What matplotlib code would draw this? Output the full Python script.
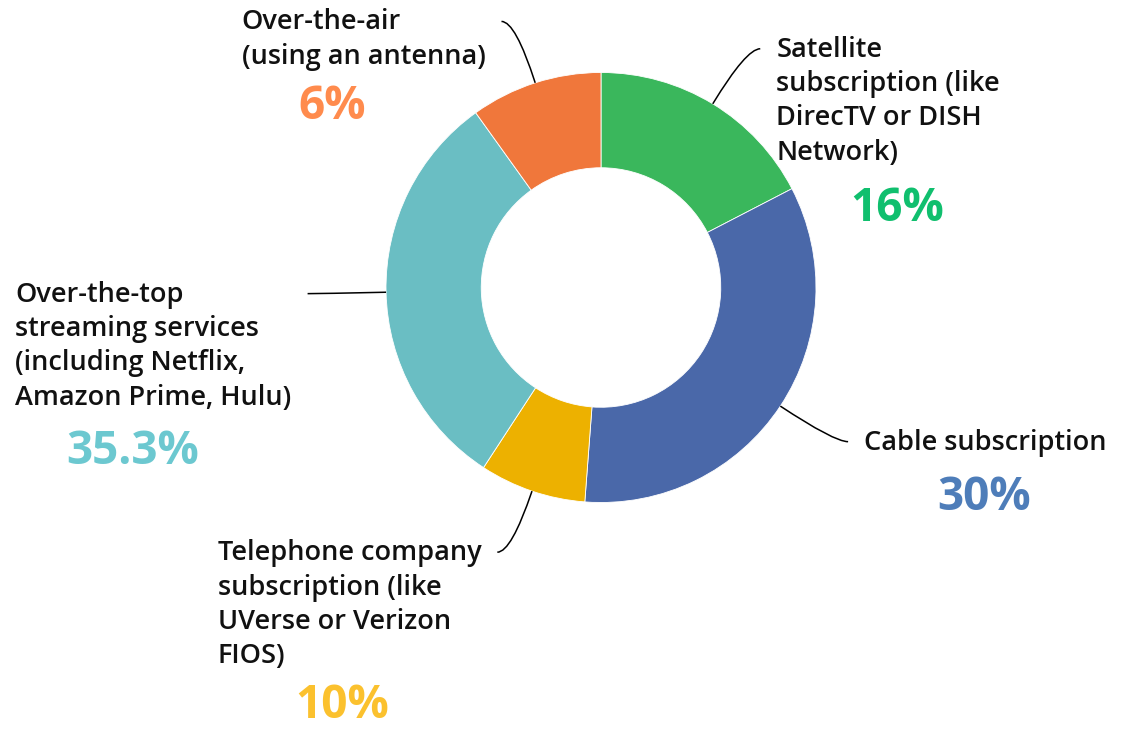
import numpy as np
import matplotlib.pyplot as plt
from matplotlib.path import Path
from matplotlib.patches import PathPatch

# ---- data ----
categories = [
    "Satellite\nsubscription (like\nDirecTV or DISH\nNetwork)",
    "Cable subscription",
    "Telephone company\nsubscription (like\nUVerse or Verizon\nFIOS)",
    "Over-the-top\nstreaming services\n(including Netflix,\nAmazon Prime, Hulu)",
    "Over-the-air\n(using an antenna)",
]
pct_labels = ["16%", "30%", "10%", "35.3%", "6%"]
# slice sizes as drawn in the picture (printed labels do not add up to 100)
shares = [17.4, 33.8, 8.0, 30.9, 9.9]

wedge_colors = ["#3AB75C", "#4A68A9", "#EDB100", "#6ABEC3", "#F0773B"]
pct_colors = ["#10BF6E", "#4E7DB9", "#FBC12E", "#6CC8D0", "#FF8B4D"]
# centre of each percentage, in image pixels
pct_pos = [(897, 208), (984, 498), (342, 705), (133, 452), (332, 106)]

# ---- layout ----
W, H = 1121, 736
R_PX = 215.0             # outer radius in pixels
CX, CY = 601.0, 287.5    # donut centre in pixels (from top-left)


def px(x, y):
    """image pixel -> data coords (radius 1 == R_PX)"""
    return (x - CX) / R_PX, (CY - y) / R_PX


fig = plt.figure(figsize=(W / 100, H / 100), dpi=100)
ax = fig.add_axes([0, 0, 1, 1])

wedges, _ = ax.pie(shares, colors=wedge_colors, startangle=90, counterclock=False,
                   radius=1.0, wedgeprops=dict(width=0.443, edgecolor="white", linewidth=0.6))

ax.set_xlim(-CX / R_PX, (W - CX) / R_PX)
ax.set_ylim(-(H - CY) / R_PX, CY / R_PX)
ax.set_aspect("equal", adjustable="box")
ax.axis("off")

label_font = dict(family=["Open Sans", "DejaVu Sans"], fontsize=19.5, fontweight="semibold",
                  color="#111111", linespacing=1.30)

for w, lab, pct, pc, pp in zip(wedges, categories, pct_labels, pct_colors, pct_pos):
    mid = np.deg2rad((w.theta1 + w.theta2) / 2)
    d = np.array([np.cos(mid), np.sin(mid)])
    p0 = d * 1.0
    p1 = d * 1.3
    side = 1 if d[0] > 0 else -1
    p2 = p1 + np.array([side * 0.065, 0.0])
    path = Path([p0, p1, p2], [Path.MOVETO, Path.CURVE3, Path.CURVE3])
    ax.add_patch(PathPatch(path, fill=False, edgecolor="black", linewidth=1.1))

    tx = p2[0] + side * 16 / R_PX
    ty = p2[1] + 13 / R_PX
    ax.text(tx, ty, lab, ha="left" if side > 0 else "right", va="top",
            multialignment="left", **label_font)

    x, y = px(*pp)
    ax.text(x, y, pct, ha="center", va="center", color=pc, fontsize=33,
            fontweight="bold", family=["Open Sans", "DejaVu Sans"])

plt.savefig("out.png", dpi=100)
